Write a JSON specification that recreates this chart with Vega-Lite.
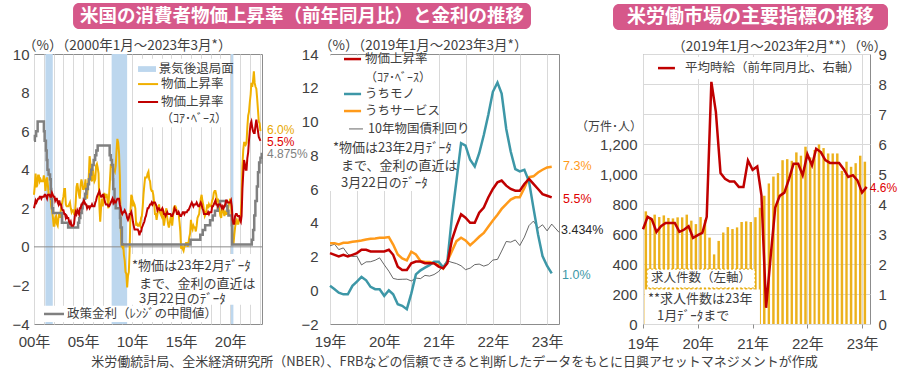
{
  "$schema": "https://vega.github.io/schema/vega-lite/v6.json",
  "background": "white",
  "padding": {"left": 11, "top": 2, "right": 2, "bottom": 2},
  "title": {"text": "米労働統計局、全米経済研究所（NBER）、FRBなどの信頼できると判断したデータをもとに日興アセットマネジメントが作成", "orient": "bottom", "anchor": "middle", "fontSize": 13, "fontWeight": "normal", "color": "#404040", "offset": 4, "font": "Noto Sans CJK JP"},
  "datasets": {
    "rec": [{"s": "2001-03-01", "e": "2001-11-30"}, {"s": "2007-12-01", "e": "2009-06-30"}, {"s": "2020-02-01", "e": "2020-04-30"}],
    "cpi": [
      {"d":"2000-01-01","h":2.7,"c":2.0},{"d":"2000-02-01","h":3.2,"c":2.2},{"d":"2000-03-01","h":3.8,"c":2.4},{"d":"2000-04-01","h":3.1,"c":2.3},{"d":"2000-05-01","h":3.2,"c":2.4},{"d":"2000-06-01","h":3.7,"c":2.5},{"d":"2000-07-01","h":3.7,"c":2.5},{"d":"2000-08-01","h":3.4,"c":2.6},{"d":"2000-09-01","h":3.5,"c":2.6},{"d":"2000-10-01","h":3.4,"c":2.5},{"d":"2000-11-01","h":3.4,"c":2.6},{"d":"2000-12-01","h":3.4,"c":2.6},
      {"d":"2001-01-01","h":3.7,"c":2.6},{"d":"2001-02-01","h":3.5,"c":2.7},{"d":"2001-03-01","h":2.9,"c":2.7},{"d":"2001-04-01","h":3.3,"c":2.6},{"d":"2001-05-01","h":3.6,"c":2.5},{"d":"2001-06-01","h":3.2,"c":2.7},{"d":"2001-07-01","h":2.7,"c":2.7},{"d":"2001-08-01","h":2.7,"c":2.7},{"d":"2001-09-01","h":2.6,"c":2.6},{"d":"2001-10-01","h":2.1,"c":2.6},{"d":"2001-11-01","h":1.9,"c":2.8},{"d":"2001-12-01","h":1.6,"c":2.7},
      {"d":"2002-01-01","h":1.1,"c":2.6},{"d":"2002-02-01","h":1.1,"c":2.6},{"d":"2002-03-01","h":1.5,"c":2.4},{"d":"2002-04-01","h":1.6,"c":2.5},{"d":"2002-05-01","h":1.2,"c":2.5},{"d":"2002-06-01","h":1.1,"c":2.3},{"d":"2002-07-01","h":1.5,"c":2.2},{"d":"2002-08-01","h":1.8,"c":2.4},{"d":"2002-09-01","h":1.5,"c":2.2},{"d":"2002-10-01","h":2.0,"c":2.2},{"d":"2002-11-01","h":2.2,"c":2.0},{"d":"2002-12-01","h":2.4,"c":1.9},
      {"d":"2003-01-01","h":2.6,"c":1.9},{"d":"2003-02-01","h":3.0,"c":1.7},{"d":"2003-03-01","h":3.0,"c":1.7},{"d":"2003-04-01","h":2.2,"c":1.5},{"d":"2003-05-01","h":2.1,"c":1.6},{"d":"2003-06-01","h":2.1,"c":1.5},{"d":"2003-07-01","h":2.1,"c":1.5},{"d":"2003-08-01","h":2.2,"c":1.3},{"d":"2003-09-01","h":2.3,"c":1.2},{"d":"2003-10-01","h":2.0,"c":1.3},{"d":"2003-11-01","h":1.8,"c":1.1},{"d":"2003-12-01","h":1.9,"c":1.1},
      {"d":"2004-01-01","h":1.9,"c":1.1},{"d":"2004-02-01","h":1.7,"c":1.2},{"d":"2004-03-01","h":1.7,"c":1.6},{"d":"2004-04-01","h":2.3,"c":1.8},{"d":"2004-05-01","h":3.1,"c":1.7},{"d":"2004-06-01","h":3.3,"c":1.9},{"d":"2004-07-01","h":3.0,"c":1.8},{"d":"2004-08-01","h":2.7,"c":1.7},{"d":"2004-09-01","h":2.5,"c":2.0},{"d":"2004-10-01","h":3.2,"c":2.0},{"d":"2004-11-01","h":3.5,"c":2.2},{"d":"2004-12-01","h":3.3,"c":2.2},
      {"d":"2005-01-01","h":3.0,"c":2.3},{"d":"2005-02-01","h":3.0,"c":2.4},{"d":"2005-03-01","h":3.1,"c":2.3},{"d":"2005-04-01","h":3.5,"c":2.2},{"d":"2005-05-01","h":2.8,"c":2.2},{"d":"2005-06-01","h":2.5,"c":2.0},{"d":"2005-07-01","h":3.2,"c":2.1},{"d":"2005-08-01","h":3.6,"c":2.1},{"d":"2005-09-01","h":4.7,"c":2.0},{"d":"2005-10-01","h":4.3,"c":2.1},{"d":"2005-11-01","h":3.5,"c":2.1},{"d":"2005-12-01","h":3.4,"c":2.2},
      {"d":"2006-01-01","h":4.0,"c":2.1},{"d":"2006-02-01","h":3.6,"c":2.1},{"d":"2006-03-01","h":3.4,"c":2.1},{"d":"2006-04-01","h":3.5,"c":2.3},{"d":"2006-05-01","h":4.2,"c":2.4},{"d":"2006-06-01","h":4.3,"c":2.6},{"d":"2006-07-01","h":4.1,"c":2.7},{"d":"2006-08-01","h":3.8,"c":2.8},{"d":"2006-09-01","h":2.1,"c":2.9},{"d":"2006-10-01","h":1.3,"c":2.7},{"d":"2006-11-01","h":2.0,"c":2.6},{"d":"2006-12-01","h":2.5,"c":2.6},
      {"d":"2007-01-01","h":2.1,"c":2.7},{"d":"2007-02-01","h":2.4,"c":2.7},{"d":"2007-03-01","h":2.8,"c":2.5},{"d":"2007-04-01","h":2.6,"c":2.3},{"d":"2007-05-01","h":2.7,"c":2.2},{"d":"2007-06-01","h":2.7,"c":2.2},{"d":"2007-07-01","h":2.4,"c":2.2},{"d":"2007-08-01","h":2.0,"c":2.1},{"d":"2007-09-01","h":2.8,"c":2.1},{"d":"2007-10-01","h":3.5,"c":2.2},{"d":"2007-11-01","h":4.3,"c":2.3},{"d":"2007-12-01","h":4.1,"c":2.4},
      {"d":"2008-01-01","h":4.3,"c":2.5},{"d":"2008-02-01","h":4.0,"c":2.3},{"d":"2008-03-01","h":4.0,"c":2.4},{"d":"2008-04-01","h":3.9,"c":2.3},{"d":"2008-05-01","h":4.2,"c":2.3},{"d":"2008-06-01","h":5.0,"c":2.4},{"d":"2008-07-01","h":5.6,"c":2.5},{"d":"2008-08-01","h":5.4,"c":2.5},{"d":"2008-09-01","h":4.9,"c":2.5},{"d":"2008-10-01","h":3.7,"c":2.2},{"d":"2008-11-01","h":1.1,"c":2.0},{"d":"2008-12-01","h":0.1,"c":1.8},
      {"d":"2009-01-01","h":0.0,"c":1.7},{"d":"2009-02-01","h":0.2,"c":1.8},{"d":"2009-03-01","h":-0.4,"c":1.8},{"d":"2009-04-01","h":-0.7,"c":1.9},{"d":"2009-05-01","h":-1.3,"c":1.8},{"d":"2009-06-01","h":-1.4,"c":1.7},{"d":"2009-07-01","h":-2.1,"c":1.5},{"d":"2009-08-01","h":-1.5,"c":1.4},{"d":"2009-09-01","h":-1.3,"c":1.5},{"d":"2009-10-01","h":-0.2,"c":1.7},{"d":"2009-11-01","h":1.8,"c":1.7},{"d":"2009-12-01","h":2.7,"c":1.8},
      {"d":"2010-01-01","h":2.6,"c":1.6},{"d":"2010-02-01","h":2.1,"c":1.3},{"d":"2010-03-01","h":2.3,"c":1.1},{"d":"2010-04-01","h":2.2,"c":0.9},{"d":"2010-05-01","h":2.0,"c":0.9},{"d":"2010-06-01","h":1.1,"c":0.9},{"d":"2010-07-01","h":1.2,"c":0.9},{"d":"2010-08-01","h":1.1,"c":0.9},{"d":"2010-09-01","h":1.1,"c":0.8},{"d":"2010-10-01","h":1.2,"c":0.6},{"d":"2010-11-01","h":1.1,"c":0.8},{"d":"2010-12-01","h":1.5,"c":0.8},
      {"d":"2011-01-01","h":1.6,"c":1.0},{"d":"2011-02-01","h":2.1,"c":1.1},{"d":"2011-03-01","h":2.7,"c":1.2},{"d":"2011-04-01","h":3.2,"c":1.3},{"d":"2011-05-01","h":3.6,"c":1.5},{"d":"2011-06-01","h":3.6,"c":1.6},{"d":"2011-07-01","h":3.6,"c":1.8},{"d":"2011-08-01","h":3.8,"c":2.0},{"d":"2011-09-01","h":3.9,"c":2.0},{"d":"2011-10-01","h":3.5,"c":2.1},{"d":"2011-11-01","h":3.4,"c":2.2},{"d":"2011-12-01","h":3.0,"c":2.2},
      {"d":"2012-01-01","h":2.9,"c":2.3},{"d":"2012-02-01","h":2.9,"c":2.2},{"d":"2012-03-01","h":2.7,"c":2.3},{"d":"2012-04-01","h":2.3,"c":2.3},{"d":"2012-05-01","h":1.7,"c":2.3},{"d":"2012-06-01","h":1.7,"c":2.2},{"d":"2012-07-01","h":1.4,"c":2.1},{"d":"2012-08-01","h":1.7,"c":1.9},{"d":"2012-09-01","h":2.0,"c":2.0},{"d":"2012-10-01","h":2.2,"c":2.0},{"d":"2012-11-01","h":1.8,"c":1.9},{"d":"2012-12-01","h":1.7,"c":1.9},
      {"d":"2013-01-01","h":1.6,"c":1.9},{"d":"2013-02-01","h":2.0,"c":2.0},{"d":"2013-03-01","h":1.5,"c":1.9},{"d":"2013-04-01","h":1.1,"c":1.7},{"d":"2013-05-01","h":1.4,"c":1.7},{"d":"2013-06-01","h":1.8,"c":1.6},{"d":"2013-07-01","h":2.0,"c":1.7},{"d":"2013-08-01","h":1.5,"c":1.8},{"d":"2013-09-01","h":1.2,"c":1.7},{"d":"2013-10-01","h":1.0,"c":1.7},{"d":"2013-11-01","h":1.2,"c":1.7},{"d":"2013-12-01","h":1.5,"c":1.7},
      {"d":"2014-01-01","h":1.6,"c":1.6},{"d":"2014-02-01","h":1.1,"c":1.6},{"d":"2014-03-01","h":1.5,"c":1.7},{"d":"2014-04-01","h":2.0,"c":1.8},{"d":"2014-05-01","h":2.1,"c":2.0},{"d":"2014-06-01","h":2.1,"c":1.9},{"d":"2014-07-01","h":2.0,"c":1.9},{"d":"2014-08-01","h":1.7,"c":1.7},{"d":"2014-09-01","h":1.7,"c":1.7},{"d":"2014-10-01","h":1.7,"c":1.8},{"d":"2014-11-01","h":1.3,"c":1.7},{"d":"2014-12-01","h":0.8,"c":1.6},
      {"d":"2015-01-01","h":-0.1,"c":1.6},{"d":"2015-02-01","h":0.0,"c":1.7},{"d":"2015-03-01","h":-0.1,"c":1.8},{"d":"2015-04-01","h":-0.2,"c":1.8},{"d":"2015-05-01","h":0.0,"c":1.7},{"d":"2015-06-01","h":0.1,"c":1.8},{"d":"2015-07-01","h":0.2,"c":1.8},{"d":"2015-08-01","h":0.2,"c":1.8},{"d":"2015-09-01","h":0.0,"c":1.9},{"d":"2015-10-01","h":0.2,"c":1.9},{"d":"2015-11-01","h":0.5,"c":2.0},{"d":"2015-12-01","h":0.7,"c":2.1},
      {"d":"2016-01-01","h":1.4,"c":2.2},{"d":"2016-02-01","h":1.0,"c":2.3},{"d":"2016-03-01","h":0.9,"c":2.2},{"d":"2016-04-01","h":1.1,"c":2.1},{"d":"2016-05-01","h":1.0,"c":2.2},{"d":"2016-06-01","h":1.0,"c":2.2},{"d":"2016-07-01","h":0.8,"c":2.2},{"d":"2016-08-01","h":1.1,"c":2.3},{"d":"2016-09-01","h":1.5,"c":2.2},{"d":"2016-10-01","h":1.6,"c":2.1},{"d":"2016-11-01","h":1.7,"c":2.1},{"d":"2016-12-01","h":2.1,"c":2.2},
      {"d":"2017-01-01","h":2.5,"c":2.3},{"d":"2017-02-01","h":2.7,"c":2.2},{"d":"2017-03-01","h":2.4,"c":2.0},{"d":"2017-04-01","h":2.2,"c":1.9},{"d":"2017-05-01","h":1.9,"c":1.7},{"d":"2017-06-01","h":1.6,"c":1.7},{"d":"2017-07-01","h":1.7,"c":1.7},{"d":"2017-08-01","h":1.9,"c":1.7},{"d":"2017-09-01","h":2.2,"c":1.7},{"d":"2017-10-01","h":2.0,"c":1.8},{"d":"2017-11-01","h":2.2,"c":1.7},{"d":"2017-12-01","h":2.1,"c":1.8},
      {"d":"2018-01-01","h":2.1,"c":1.8},{"d":"2018-02-01","h":2.2,"c":1.8},{"d":"2018-03-01","h":2.4,"c":2.1},{"d":"2018-04-01","h":2.5,"c":2.1},{"d":"2018-05-01","h":2.8,"c":2.2},{"d":"2018-06-01","h":2.9,"c":2.3},{"d":"2018-07-01","h":2.9,"c":2.4},{"d":"2018-08-01","h":2.7,"c":2.2},{"d":"2018-09-01","h":2.3,"c":2.2},{"d":"2018-10-01","h":2.5,"c":2.1},{"d":"2018-11-01","h":2.2,"c":2.2},{"d":"2018-12-01","h":1.9,"c":2.2},
      {"d":"2019-01-01","h":1.6,"c":2.2},{"d":"2019-02-01","h":1.5,"c":2.1},{"d":"2019-03-01","h":1.9,"c":2.0},{"d":"2019-04-01","h":2.0,"c":2.1},{"d":"2019-05-01","h":1.8,"c":2.0},{"d":"2019-06-01","h":1.6,"c":2.1},{"d":"2019-07-01","h":1.8,"c":2.2},{"d":"2019-08-01","h":1.7,"c":2.4},{"d":"2019-09-01","h":1.7,"c":2.4},{"d":"2019-10-01","h":1.8,"c":2.3},{"d":"2019-11-01","h":2.1,"c":2.3},{"d":"2019-12-01","h":2.3,"c":2.3},
      {"d":"2020-01-01","h":2.5,"c":2.3},{"d":"2020-02-01","h":2.3,"c":2.4},{"d":"2020-03-01","h":1.5,"c":2.1},{"d":"2020-04-01","h":0.3,"c":1.4},{"d":"2020-05-01","h":0.1,"c":1.2},{"d":"2020-06-01","h":0.6,"c":1.2},{"d":"2020-07-01","h":1.0,"c":1.6},{"d":"2020-08-01","h":1.3,"c":1.7},{"d":"2020-09-01","h":1.4,"c":1.7},{"d":"2020-10-01","h":1.2,"c":1.6},{"d":"2020-11-01","h":1.2,"c":1.6},{"d":"2020-12-01","h":1.4,"c":1.6},
      {"d":"2021-01-01","h":1.4,"c":1.4},{"d":"2021-02-01","h":1.7,"c":1.3},{"d":"2021-03-01","h":2.6,"c":1.6},{"d":"2021-04-01","h":4.2,"c":3.0},{"d":"2021-05-01","h":5.0,"c":3.8},{"d":"2021-06-01","h":5.4,"c":4.5},{"d":"2021-07-01","h":5.4,"c":4.3},{"d":"2021-08-01","h":5.3,"c":4.0},{"d":"2021-09-01","h":5.4,"c":4.0},{"d":"2021-10-01","h":6.2,"c":4.6},{"d":"2021-11-01","h":6.8,"c":4.9},{"d":"2021-12-01","h":7.0,"c":5.5},
      {"d":"2022-01-01","h":7.5,"c":6.0},{"d":"2022-02-01","h":7.9,"c":6.4},{"d":"2022-03-01","h":8.5,"c":6.5},{"d":"2022-04-01","h":8.3,"c":6.2},{"d":"2022-05-01","h":8.6,"c":6.0},{"d":"2022-06-01","h":9.1,"c":5.9},{"d":"2022-07-01","h":8.5,"c":5.9},{"d":"2022-08-01","h":8.3,"c":6.3},{"d":"2022-09-01","h":8.2,"c":6.6},{"d":"2022-10-01","h":7.7,"c":6.3},{"d":"2022-11-01","h":7.1,"c":6.0},{"d":"2022-12-01","h":6.5,"c":5.7},
      {"d":"2023-01-01","h":6.4,"c":5.6},{"d":"2023-02-01","h":6.0,"c":5.5}
    ],
    "rate": [
      {"d":"2000-01-01","r":5.5},{"d":"2000-02-02","r":5.75},{"d":"2000-03-21","r":6.0},{"d":"2000-05-16","r":6.5},{"d":"2001-01-03","r":6.0},{"d":"2001-01-31","r":5.5},{"d":"2001-03-20","r":5.0},{"d":"2001-04-18","r":4.5},{"d":"2001-05-15","r":4.0},{"d":"2001-06-27","r":3.75},{"d":"2001-08-21","r":3.5},{"d":"2001-09-17","r":3.0},{"d":"2001-10-02","r":2.5},{"d":"2001-11-06","r":2.0},{"d":"2001-12-11","r":1.75},{"d":"2002-11-06","r":1.25},{"d":"2003-06-25","r":1.0},{"d":"2004-06-30","r":1.25},{"d":"2004-08-10","r":1.5},{"d":"2004-09-21","r":1.75},{"d":"2004-11-10","r":2.0},{"d":"2004-12-14","r":2.25},{"d":"2005-02-02","r":2.5},{"d":"2005-03-22","r":2.75},{"d":"2005-05-03","r":3.0},{"d":"2005-06-30","r":3.25},{"d":"2005-08-09","r":3.5},{"d":"2005-09-20","r":3.75},{"d":"2005-11-01","r":4.0},{"d":"2005-12-13","r":4.25},{"d":"2006-01-31","r":4.5},{"d":"2006-03-28","r":4.75},{"d":"2006-05-10","r":5.0},{"d":"2006-06-29","r":5.25},{"d":"2007-09-18","r":4.75},{"d":"2007-10-31","r":4.5},{"d":"2007-12-11","r":4.25},{"d":"2008-01-22","r":3.5},{"d":"2008-01-30","r":3.0},{"d":"2008-03-18","r":2.25},{"d":"2008-04-30","r":2.0},{"d":"2008-10-08","r":1.5},{"d":"2008-10-29","r":1.0},{"d":"2008-12-16","r":0.125},{"d":"2015-12-16","r":0.375},{"d":"2016-12-14","r":0.625},{"d":"2017-03-15","r":0.875},{"d":"2017-06-14","r":1.125},{"d":"2017-12-13","r":1.375},{"d":"2018-03-21","r":1.625},{"d":"2018-06-13","r":1.875},{"d":"2018-09-26","r":2.125},{"d":"2018-12-19","r":2.375},{"d":"2019-07-31","r":2.125},{"d":"2019-09-18","r":1.875},{"d":"2019-10-30","r":1.625},{"d":"2020-03-03","r":1.125},{"d":"2020-03-15","r":0.125},{"d":"2022-03-16","r":0.375},{"d":"2022-05-04","r":0.875},{"d":"2022-06-15","r":1.625},{"d":"2022-07-27","r":2.375},{"d":"2022-09-21","r":3.125},{"d":"2022-11-02","r":3.875},{"d":"2022-12-14","r":4.375},{"d":"2023-02-01","r":4.625},{"d":"2023-03-22","r":4.875}
    ],
    "mid": [
      {"d":"2019-01-01","c":2.2,"g":0.26,"s":2.79},{"d":"2019-02-01","c":2.1,"g":0.06,"s":2.79},{"d":"2019-03-01","c":2.0,"g":-0.14,"s":2.71},{"d":"2019-04-01","c":2.1,"g":-0.24,"s":2.81},{"d":"2019-05-01","c":2.0,"g":-0.24,"s":2.81},{"d":"2019-06-01","c":2.1,"g":0.26,"s":2.87},{"d":"2019-07-01","c":2.2,"g":0.51,"s":2.91},{"d":"2019-08-01","c":2.4,"g":0.79,"s":2.95},{"d":"2019-09-01","c":2.4,"g":0.59,"s":3.01},{"d":"2019-10-01","c":2.3,"g":0.2,"s":3.05},{"d":"2019-11-01","c":2.3,"g":0.06,"s":3.07},{"d":"2019-12-01","c":2.3,"g":0.06,"s":3.11},
      {"d":"2020-01-01","c":2.3,"g":-0.33,"s":3.11},{"d":"2020-02-01","c":2.4,"g":0.0,"s":3.15},{"d":"2020-03-01","c":2.1,"g":-0.24,"s":2.71},{"d":"2020-04-01","c":1.4,"g":-0.83,"s":2.12},{"d":"2020-05-01","c":1.2,"g":-0.92,"s":1.89},{"d":"2020-06-01","c":1.2,"g":-1.12,"s":1.77},{"d":"2020-07-01","c":1.6,"g":-0.2,"s":2.28},{"d":"2020-08-01","c":1.7,"g":0.94,"s":2.12},{"d":"2020-09-01","c":1.7,"g":1.18,"s":1.73},{"d":"2020-10-01","c":1.6,"g":1.34,"s":1.67},{"d":"2020-11-01","c":1.6,"g":1.49,"s":1.67},{"d":"2020-12-01","c":1.6,"g":1.69,"s":1.59},
      {"d":"2021-01-01","c":1.4,"g":1.69,"s":1.49},{"d":"2021-02-01","c":1.3,"g":1.34,"s":1.28},{"d":"2021-03-01","c":1.6,"g":1.73,"s":1.73},{"d":"2021-04-01","c":3.0,"g":4.4,"s":2.32},{"d":"2021-05-01","c":3.8,"g":6.5,"s":2.91},{"d":"2021-06-01","c":4.5,"g":8.71,"s":3.11},{"d":"2021-07-01","c":4.3,"g":8.57,"s":2.95},{"d":"2021-08-01","c":4.0,"g":7.73,"s":2.67},{"d":"2021-09-01","c":4.0,"g":7.34,"s":2.91},{"d":"2021-10-01","c":4.6,"g":8.12,"s":3.17},{"d":"2021-11-01","c":4.9,"g":9.2,"s":3.4},{"d":"2021-12-01","c":5.5,"g":10.38,"s":3.76},
      {"d":"2022-01-01","c":6.0,"g":11.76,"s":4.13},{"d":"2022-02-01","c":6.4,"g":12.31,"s":4.48},{"d":"2022-03-01","c":6.5,"g":11.66,"s":4.82},{"d":"2022-04-01","c":6.2,"g":9.56,"s":5.11},{"d":"2022-05-01","c":6.0,"g":8.22,"s":5.37},{"d":"2022-06-01","c":5.9,"g":7.18,"s":5.51},{"d":"2022-07-01","c":5.9,"g":7.04,"s":5.51},{"d":"2022-08-01","c":6.3,"g":7.14,"s":6.06},{"d":"2022-09-01","c":6.6,"g":6.45,"s":6.7},{"d":"2022-10-01","c":6.3,"g":4.88,"s":6.75},{"d":"2022-11-01","c":6.0,"g":3.3,"s":6.98},{"d":"2022-12-01","c":5.7,"g":2.03,"s":7.14},
      {"d":"2023-01-01","c":5.6,"g":1.44,"s":7.28},{"d":"2023-02-01","c":5.5,"g":1.0,"s":7.32}
    ],
    "jgb": [
      {"d":"2019-01-01","y":2.63},{"d":"2019-02-01","y":2.73},{"d":"2019-03-01","y":2.41},{"d":"2019-04-01","y":2.51},{"d":"2019-05-01","y":2.14},{"d":"2019-06-01","y":2.0},{"d":"2019-07-01","y":2.02},{"d":"2019-08-01","y":1.5},{"d":"2019-09-01","y":1.68},{"d":"2019-10-01","y":1.69},{"d":"2019-11-01","y":1.78},{"d":"2019-12-01","y":1.92},
      {"d":"2020-01-01","y":1.51},{"d":"2020-02-01","y":1.13},{"d":"2020-03-01","y":0.7},{"d":"2020-04-01","y":0.64},{"d":"2020-05-01","y":0.65},{"d":"2020-06-01","y":0.66},{"d":"2020-07-01","y":0.55},{"d":"2020-08-01","y":0.72},{"d":"2020-09-01","y":0.69},{"d":"2020-10-01","y":0.88},{"d":"2020-11-01","y":0.84},{"d":"2020-12-01","y":0.93},
      {"d":"2021-01-01","y":1.11},{"d":"2021-02-01","y":1.44},{"d":"2021-03-01","y":1.74},{"d":"2021-04-01","y":1.65},{"d":"2021-05-01","y":1.58},{"d":"2021-06-01","y":1.45},{"d":"2021-07-01","y":1.22},{"d":"2021-08-01","y":1.31},{"d":"2021-09-01","y":1.52},{"d":"2021-10-01","y":1.55},{"d":"2021-11-01","y":1.43},{"d":"2021-12-01","y":1.52},
      {"d":"2022-01-01","y":1.79},{"d":"2022-02-01","y":1.83},{"d":"2022-03-01","y":2.32},{"d":"2022-04-01","y":2.89},{"d":"2022-05-01","y":2.85},{"d":"2022-06-01","y":2.98},{"d":"2022-07-01","y":2.65},{"d":"2022-08-01","y":3.15},{"d":"2022-09-01","y":3.83},{"d":"2022-10-01","y":4.1},{"d":"2022-11-01","y":3.68},{"d":"2022-12-01","y":3.88},
      {"d":"2023-01-01","y":3.52},{"d":"2023-02-01","y":3.92},{"d":"2023-03-22","y":3.434}
    ],
    "labor": [
      {"d":"2019-01-01","jobs":751,"wage":3.16},{"d":"2019-02-01","jobs":713,"wage":3.57},{"d":"2019-03-01","jobs":729,"wage":3.49},{"d":"2019-04-01","jobs":713,"wage":3.07},{"d":"2019-05-01","jobs":724,"wage":3.26},{"d":"2019-06-01","jobs":707,"wage":3.37},{"d":"2019-07-01","jobs":704,"wage":3.37},{"d":"2019-08-01","jobs":711,"wage":3.37},{"d":"2019-09-01","jobs":711,"wage":3.07},{"d":"2019-10-01","jobs":729,"wage":3.14},{"d":"2019-11-01","jobs":689,"wage":3.26},{"d":"2019-12-01","jobs":666,"wage":2.87},
      {"d":"2020-01-01","jobs":713,"wage":2.96},{"d":"2020-02-01","jobs":695,"wage":3.04},{"d":"2020-03-01","jobs":576,"wage":3.57},{"d":"2020-04-01","jobs":464,"wage":8.07},{"d":"2020-05-01","jobs":554,"wage":7.07},{"d":"2020-06-01","jobs":610,"wage":5.03},{"d":"2020-07-01","jobs":646,"wage":4.84},{"d":"2020-08-01","jobs":633,"wage":4.75},{"d":"2020-09-01","jobs":644,"wage":4.75},{"d":"2020-10-01","jobs":680,"wage":4.57},{"d":"2020-11-01","jobs":684,"wage":4.57},{"d":"2020-12-01","jobs":680,"wage":5.45},
      {"d":"2021-01-01","jobs":712,"wage":5.14},{"d":"2021-02-01","jobs":775,"wage":5.25},{"d":"2021-03-01","jobs":855,"wage":4.29},{"d":"2021-04-01","jobs":937,"wage":0.54},{"d":"2021-05-01","jobs":983,"wage":2.23},{"d":"2021-06-01","jobs":1006,"wage":3.88},{"d":"2021-07-01","jobs":1092,"wage":4.27},{"d":"2021-08-01","jobs":1099,"wage":4.38},{"d":"2021-09-01","jobs":1088,"wage":4.84},{"d":"2021-10-01","jobs":1144,"wage":5.34},{"d":"2021-11-01","jobs":1122,"wage":5.34},{"d":"2021-12-01","jobs":1182,"wage":4.96},
      {"d":"2022-01-01","jobs":1111,"wage":5.66},{"d":"2022-02-01","jobs":1160,"wage":5.29},{"d":"2022-03-01","jobs":1197,"wage":5.84},{"d":"2022-04-01","jobs":1173,"wage":5.73},{"d":"2022-05-01","jobs":1137,"wage":5.46},{"d":"2022-06-01","jobs":1137,"wage":5.37},{"d":"2022-07-01","jobs":1137,"wage":5.37},{"d":"2022-08-01","jobs":1021,"wage":5.37},{"d":"2022-09-01","jobs":1082,"wage":5.16},{"d":"2022-10-01","jobs":1048,"wage":4.9},{"d":"2022-11-01","jobs":1072,"wage":4.96},{"d":"2022-12-01","jobs":1122,"wage":4.79},
      {"d":"2023-01-01","jobs":1082,"wage":4.38},{"d":"2023-02-01","jobs":null,"wage":4.57}
    ]
  },
  "hconcat": [
    {
      "hconcat": [
        {
          "width": 228, "height": 270,
          "data": {"values": [{}]},
          "resolve": {"axis": {"x": "independent", "y": "independent"}},
          "layer": [
            {"data": {"name": "rec"}, "mark": {"type": "rect", "color": "#bdd7ee"},
             "encoding": {
               "x": {"field": "s", "type": "temporal", "scale": {"domain": [{"year": 2000, "month": 1, "date": 1}, {"year": 2023, "month": 3, "date": 31}], "nice": false},
                     "axis": {"orient": "bottom", "title": null, "grid": true, "values": [{"year":2000},{"year":2001},{"year":2002},{"year":2003},{"year":2004},{"year":2005},{"year":2006},{"year":2007},{"year":2008},{"year":2009},{"year":2010},{"year":2011},{"year":2012},{"year":2013},{"year":2014},{"year":2015},{"year":2016},{"year":2017},{"year":2018},{"year":2019},{"year":2020},{"year":2021},{"year":2022},{"year":2023}],
                              "labelExpr": "year(datum.value) % 5 === 0 ? timeFormat(datum.value, '%y年') : ''", "labelOverlap": false, "labelFlush": false, "labelBound": false, "labelPadding": 10}},
               "x2": {"field": "e"}}},
            {"mark": {"type": "rule", "color": "#8c8c8c", "strokeWidth": 1}, "encoding": {"y": {"datum": 0, "type": "quantitative", "axis": null}}},
            {"mark": {"type": "rect", "color": "white"}, "encoding": {"x": {"datum": {"year": 2010, "month": 2, "date": 7}, "type": "temporal", "axis": null}, "x2": {"datum": {"year": 2019, "month": 12, "date": 20}}, "y": {"datum": 9.75, "type": "quantitative", "axis": null}, "y2": {"datum": 6.2}}},
            {"mark": {"type": "rect", "color": "white"}, "encoding": {"x": {"datum": {"year": 2009, "month": 10, "date": 15}, "type": "temporal", "axis": null}, "x2": {"datum": {"year": 2022, "month": 5, "date": 1}}, "y": {"datum": -0.37, "type": "quantitative", "axis": null}, "y2": {"datum": -3.0}}},
            {"mark": {"type": "rect", "color": "white"}, "encoding": {"x": {"datum": {"year": 2000, "month": 9, "date": 16}, "type": "temporal", "axis": null}, "x2": {"datum": {"year": 2017, "month": 7, "date": 16}}, "y": {"datum": -3.05, "type": "quantitative", "axis": null}, "y2": {"datum": -3.9}}},
            {"data": {"name": "cpi"}, "mark": {"type": "line", "color": "#f0b000", "strokeWidth": 2}, "encoding": {"x": {"field": "d", "type": "temporal", "axis": null}, "y": {"field": "h", "type": "quantitative", "scale": {"domain": [-4, 10], "nice": false}, "axis": {"orient": "left", "title": null, "values": [-4, -2, 0, 2, 4, 6, 8, 10], "labelPadding": 5, "labelOverlap": false}}}},
            {"data": {"name": "rate"}, "mark": {"type": "line", "color": "#808080", "strokeWidth": 2.5, "interpolate": "step-after"}, "encoding": {"x": {"field": "d", "type": "temporal", "axis": null}, "y": {"field": "r", "type": "quantitative", "axis": null}}},
            {"data": {"name": "cpi"}, "mark": {"type": "line", "color": "#c00000", "strokeWidth": 2}, "encoding": {"x": {"field": "d", "type": "temporal", "axis": null}, "y": {"field": "c", "type": "quantitative", "axis": null}}},
            {"mark": {"type": "rect", "color": "#bdd7ee"}, "encoding": {"x": {"datum": {"year": 2010, "month": 8, "date": 10}, "type": "temporal", "axis": null}, "x2": {"datum": {"year": 2012, "month": 6, "date": 10}}, "y": {"datum": 9.37, "type": "quantitative", "axis": null}, "y2": {"datum": 9.07}}},
            {"mark": {"type": "rule", "color": "#f0b000", "strokeWidth": 2}, "encoding": {"x": {"datum": {"year": 2010, "month": 8, "date": 10}, "type": "temporal", "axis": null}, "x2": {"datum": {"year": 2012, "month": 8, "date": 25}}, "y": {"datum": 8.44, "type": "quantitative", "axis": null}}},
            {"mark": {"type": "rule", "color": "#c00000", "strokeWidth": 2}, "encoding": {"x": {"datum": {"year": 2010, "month": 8, "date": 10}, "type": "temporal", "axis": null}, "x2": {"datum": {"year": 2012, "month": 8, "date": 25}}, "y": {"datum": 7.51, "type": "quantitative", "axis": null}}},
            {"mark": {"type": "text", "text": "景気後退局面", "align": "left", "baseline": "middle", "fontSize": 12.5}, "encoding": {"x": {"datum": {"year": 2012, "month": 9, "date": 20}, "type": "temporal", "axis": null}, "y": {"datum": 9.22, "type": "quantitative", "axis": null}}},
            {"mark": {"type": "text", "text": "物価上昇率", "align": "left", "baseline": "middle", "fontSize": 12.5}, "encoding": {"x": {"datum": {"year": 2012, "month": 12, "date": 12}, "type": "temporal", "axis": null}, "y": {"datum": 8.44, "type": "quantitative", "axis": null}}},
            {"mark": {"type": "text", "text": "物価上昇率", "align": "left", "baseline": "middle", "fontSize": 12.5}, "encoding": {"x": {"datum": {"year": 2012, "month": 12, "date": 12}, "type": "temporal", "axis": null}, "y": {"datum": 7.51, "type": "quantitative", "axis": null}}},
            {"mark": {"type": "text", "text": "（ｺｱ･ﾍﾞｰｽ）", "align": "left", "baseline": "middle", "fontSize": 12}, "encoding": {"x": {"datum": {"year": 2012, "month": 12, "date": 12}, "type": "temporal", "axis": null}, "y": {"datum": 6.63, "type": "quantitative", "axis": null}}},
            {"mark": {"type": "text", "text": "*物価は23年2月ﾃﾞｰﾀ", "align": "left", "baseline": "middle", "fontSize": 13}, "encoding": {"x": {"datum": {"year": 2009, "month": 12, "date": 28}, "type": "temporal", "axis": null}, "y": {"datum": -1.0, "type": "quantitative", "axis": null}}},
            {"mark": {"type": "text", "text": "まで、金利の直近は", "align": "left", "baseline": "middle", "fontSize": 13}, "encoding": {"x": {"datum": {"year": 2010, "month": 9, "date": 16}, "type": "temporal", "axis": null}, "y": {"datum": -1.94, "type": "quantitative", "axis": null}}},
            {"mark": {"type": "text", "text": "3月22日のﾃﾞｰﾀ", "align": "left", "baseline": "middle", "fontSize": 13}, "encoding": {"x": {"datum": {"year": 2010, "month": 9, "date": 16}, "type": "temporal", "axis": null}, "y": {"datum": -2.72, "type": "quantitative", "axis": null}}},
            {"mark": {"type": "rule", "color": "#808080", "strokeWidth": 2.5}, "encoding": {"x": {"datum": {"year": 2001, "month": 1, "date": 8}, "type": "temporal", "axis": null}, "x2": {"datum": {"year": 2003, "month": 1, "date": 23}}, "y": {"datum": -3.48, "type": "quantitative", "axis": null}}},
            {"mark": {"type": "text", "text": "政策金利（ﾚﾝｼﾞの中間値）", "align": "left", "baseline": "middle", "fontSize": 12.5}, "encoding": {"x": {"datum": {"year": 2003, "month": 5, "date": 15}, "type": "temporal", "axis": null}, "y": {"datum": -3.48, "type": "quantitative", "axis": null}}},
            {"mark": {"type": "text", "text": "6.0%", "align": "left", "baseline": "middle", "fontSize": 12, "dx": 5, "color": "#e8a800", "font": "Liberation Sans"}, "encoding": {"x": {"datum": {"year": 2023, "month": 3, "date": 31}, "type": "temporal", "axis": null}, "y": {"datum": 6.06, "type": "quantitative", "axis": null}}},
            {"mark": {"type": "text", "text": "5.5%", "align": "left", "baseline": "middle", "fontSize": 12, "dx": 5, "color": "#e00000", "font": "Liberation Sans"}, "encoding": {"x": {"datum": {"year": 2023, "month": 3, "date": 31}, "type": "temporal", "axis": null}, "y": {"datum": 5.44, "type": "quantitative", "axis": null}}},
            {"mark": {"type": "text", "text": "4.875%", "align": "left", "baseline": "middle", "fontSize": 12, "dx": 5, "color": "#7f7f7f", "font": "Liberation Sans"}, "encoding": {"x": {"datum": {"year": 2023, "month": 3, "date": 31}, "type": "temporal", "axis": null}, "y": {"datum": 4.82, "type": "quantitative", "axis": null}}},
            {"mark": {"type": "text", "text": "（%）（2000年1月～2023年3月*）", "align": "left", "baseline": "middle", "fontSize": 13.5, "dx": -11}, "encoding": {"x": {"datum": {"year": 2000, "month": 1, "date": 1}, "type": "temporal", "axis": null}, "y": {"datum": 10.41, "type": "quantitative", "axis": null}}},
            {"mark": {"type": "rect", "color": "#d6588a", "cornerRadius": 6}, "encoding": {"x": {"datum": {"year": 2003, "month": 12, "date": 25}, "type": "temporal", "axis": null}, "x2": {"datum": {"year": 2050, "month": 9, "date": 1}}, "y": {"datum": 12.64, "type": "quantitative", "axis": null}, "y2": {"datum": 11.3}}},
            {"mark": {"type": "text", "text": "米国の消費者物価上昇率（前年同月比）と金利の推移", "align": "center", "baseline": "middle", "fontSize": 18.5, "fontWeight": "bold", "color": "white"}, "encoding": {"x": {"datum": {"year": 2027, "month": 5, "date": 1}, "type": "temporal", "axis": null}, "y": {"datum": 11.97, "type": "quantitative", "axis": null}}}
          ]
        },
        {
          "width": 229, "height": 270,
          "data": {"values": [{}]},
          "resolve": {"axis": {"x": "independent", "y": "independent"}},
          "layer": [
            {"mark": {"type": "rect", "color": "white"},
             "encoding": {
               "x": {"datum": {"year": 2019, "month": 1, "date": 1}, "type": "temporal", "axis": null},
               "x2": {"datum": {"year": 2020, "month": 11, "date": 24}},
               "y": {"datum": 13.9, "type": "quantitative", "axis": null},
               "y2": {"datum": 5.88}}},
            {"data": {"name": "jgb"}, "mark": {"type": "line", "color": "#404040", "strokeWidth": 0.8},
             "encoding": {
               "x": {"field": "d", "type": "temporal", "scale": {"domain": [{"year": 2019, "month": 1, "date": 1}, {"year": 2023, "month": 3, "date": 22}], "nice": false},
                     "axis": {"orient": "bottom", "title": null, "grid": true, "values": [{"year":2019},{"year":2019,"month":7},{"year":2020},{"year":2020,"month":7},{"year":2021},{"year":2021,"month":7},{"year":2022},{"year":2022,"month":7},{"year":2023}],
                              "labelExpr": "month(datum.value) === 0 ? timeFormat(datum.value, '%y年') : ''", "labelOverlap": false, "labelFlush": false, "labelBound": false, "labelPadding": 10}},
               "y": {"field": "y", "type": "quantitative", "scale": {"domain": [-2, 14], "nice": false}, "axis": {"orient": "left", "title": null, "values": [-2, 0, 2, 4, 6, 8, 10, 12, 14], "labelPadding": 12, "labelOverlap": false}}}},
            {"data": {"name": "mid"}, "mark": {"type": "line", "color": "#ff9a1a", "strokeWidth": 2.5}, "encoding": {"x": {"field": "d", "type": "temporal", "axis": null}, "y": {"field": "s", "type": "quantitative", "axis": null}}},
            {"data": {"name": "mid"}, "mark": {"type": "line", "color": "#3d97a7", "strokeWidth": 2.5}, "encoding": {"x": {"field": "d", "type": "temporal", "axis": null}, "y": {"field": "g", "type": "quantitative", "axis": null}}},
            {"data": {"name": "mid"}, "mark": {"type": "line", "color": "#c00000", "strokeWidth": 2.5}, "encoding": {"x": {"field": "d", "type": "temporal", "axis": null}, "y": {"field": "c", "type": "quantitative", "axis": null}}},
            {"mark": {"type": "rule", "color": "#c00000", "strokeWidth": 2.5}, "encoding": {"x": {"datum": {"year": 2019, "month": 4, "date": 5}, "type": "temporal", "axis": null}, "x2": {"datum": {"year": 2019, "month": 7, "date": 29}}, "y": {"datum": 13.7, "type": "quantitative", "axis": null}}},
            {"mark": {"type": "rule", "color": "#3d97a7", "strokeWidth": 2.5}, "encoding": {"x": {"datum": {"year": 2019, "month": 4, "date": 5}, "type": "temporal", "axis": null}, "x2": {"datum": {"year": 2019, "month": 7, "date": 29}}, "y": {"datum": 11.63, "type": "quantitative", "axis": null}}},
            {"mark": {"type": "rule", "color": "#ff9a1a", "strokeWidth": 2.5}, "encoding": {"x": {"datum": {"year": 2019, "month": 4, "date": 5}, "type": "temporal", "axis": null}, "x2": {"datum": {"year": 2019, "month": 7, "date": 29}}, "y": {"datum": 10.62, "type": "quantitative", "axis": null}}},
            {"mark": {"type": "rule", "color": "#404040", "strokeWidth": 0.8}, "encoding": {"x": {"datum": {"year": 2019, "month": 5, "date": 9}, "type": "temporal", "axis": null}, "x2": {"datum": {"year": 2019, "month": 8, "date": 11}}, "y": {"datum": 9.56, "type": "quantitative", "axis": null}}},
            {"mark": {"type": "text", "text": "物価上昇率", "align": "left", "baseline": "middle", "fontSize": 12.5}, "encoding": {"x": {"datum": {"year": 2019, "month": 8, "date": 25}, "type": "temporal", "axis": null}, "y": {"datum": 13.7, "type": "quantitative", "axis": null}}},
            {"mark": {"type": "text", "text": "（ｺｱ･ﾍﾞｰｽ）", "align": "left", "baseline": "middle", "fontSize": 12}, "encoding": {"x": {"datum": {"year": 2019, "month": 8, "date": 25}, "type": "temporal", "axis": null}, "y": {"datum": 12.58, "type": "quantitative", "axis": null}}},
            {"mark": {"type": "text", "text": "うちモノ", "align": "left", "baseline": "middle", "fontSize": 12.5}, "encoding": {"x": {"datum": {"year": 2019, "month": 8, "date": 25}, "type": "temporal", "axis": null}, "y": {"datum": 11.63, "type": "quantitative", "axis": null}}},
            {"mark": {"type": "text", "text": "うちサービス", "align": "left", "baseline": "middle", "fontSize": 12.5}, "encoding": {"x": {"datum": {"year": 2019, "month": 8, "date": 25}, "type": "temporal", "axis": null}, "y": {"datum": 10.62, "type": "quantitative", "axis": null}}},
            {"mark": {"type": "text", "text": "10年物国債利回り", "align": "left", "baseline": "middle", "fontSize": 12.5}, "encoding": {"x": {"datum": {"year": 2019, "month": 9, "date": 14}, "type": "temporal", "axis": null}, "y": {"datum": 9.56, "type": "quantitative", "axis": null}}},
            {"mark": {"type": "text", "text": "*物価は23年2月ﾃﾞｰﾀ", "align": "left", "baseline": "middle", "fontSize": 13}, "encoding": {"x": {"datum": {"year": 2019, "month": 1, "date": 21}, "type": "temporal", "axis": null}, "y": {"datum": 8.43, "type": "quantitative", "axis": null}}},
            {"mark": {"type": "text", "text": "まで、金利の直近は", "align": "left", "baseline": "middle", "fontSize": 13}, "encoding": {"x": {"datum": {"year": 2019, "month": 3, "date": 16}, "type": "temporal", "axis": null}, "y": {"datum": 7.36, "type": "quantitative", "axis": null}}},
            {"mark": {"type": "text", "text": "3月22日のﾃﾞｰﾀ", "align": "left", "baseline": "middle", "fontSize": 13}, "encoding": {"x": {"datum": {"year": 2019, "month": 3, "date": 16}, "type": "temporal", "axis": null}, "y": {"datum": 6.36, "type": "quantitative", "axis": null}}},
            {"mark": {"type": "text", "text": "7.3%", "align": "left", "baseline": "middle", "fontSize": 12.5, "dx": 4, "color": "#ff9a1a", "font": "Liberation Sans"}, "encoding": {"x": {"datum": {"year": 2023, "month": 3, "date": 22}, "type": "temporal", "axis": null}, "y": {"datum": 7.36, "type": "quantitative", "axis": null}}},
            {"mark": {"type": "text", "text": "5.5%", "align": "left", "baseline": "middle", "fontSize": 12.5, "dx": 4, "color": "#e00000", "font": "Liberation Sans"}, "encoding": {"x": {"datum": {"year": 2023, "month": 3, "date": 22}, "type": "temporal", "axis": null}, "y": {"datum": 5.41, "type": "quantitative", "axis": null}}},
            {"mark": {"type": "text", "text": "3.434%", "align": "left", "baseline": "middle", "fontSize": 12.5, "dx": 2, "color": "#262626", "font": "Liberation Sans"}, "encoding": {"x": {"datum": {"year": 2023, "month": 3, "date": 22}, "type": "temporal", "axis": null}, "y": {"datum": 3.57, "type": "quantitative", "axis": null}}},
            {"mark": {"type": "text", "text": "1.0%", "align": "left", "baseline": "middle", "fontSize": 12.5, "dx": 3, "color": "#3d97a7", "font": "Liberation Sans"}, "encoding": {"x": {"datum": {"year": 2023, "month": 3, "date": 22}, "type": "temporal", "axis": null}, "y": {"datum": 0.9, "type": "quantitative", "axis": null}}},
            {"mark": {"type": "text", "text": "（%）（2019年1月～2023年3月*）", "align": "left", "baseline": "middle", "fontSize": 13.5, "dx": -11}, "encoding": {"x": {"datum": {"year": 2019, "month": 1, "date": 1}, "type": "temporal", "axis": null}, "y": {"datum": 14.47, "type": "quantitative", "axis": null}}}
          ]
        }
      ],
      "spacing": 68,
      "bounds": "flush"
    },
    {
      "width": 227, "height": 270,
      "data": {"values": [{}]},
      "resolve": {"scale": {"y": "independent"}, "axis": {"x": "independent", "y": "independent"}},
      "layer": [
        {"data": {"name": "labor"}, "mark": {"type": "bar", "color": "#ecb11c", "width": {"band": 0.75}},
         "encoding": {
           "x": {"field": "d", "timeUnit": "utcyearmonth", "type": "temporal", "scale": {"domain": [{"year": 2019, "month": 1, "date": 1}, {"year": 2023, "month": 2, "date": 23}], "nice": false},
                 "axis": {"orient": "bottom", "title": null, "grid": true, "values": [{"year":2019},{"year":2020},{"year":2021},{"year":2022},{"year":2023}], "format": "%y年", "labelOverlap": false, "labelFlush": false, "labelBound": false, "labelPadding": 8, "ticks": true, "tickSize": 4, "tickColor": "#8c8c8c"}},
           "y": {"field": "jobs", "type": "quantitative", "scale": {"domain": [0, 1800], "nice": false}, "axis": {"orient": "left", "title": null, "grid": false, "values": [0, 200, 400, 600, 800, 1000, 1200], "labelExpr": "format(datum.value, ',')", "labelPadding": 6, "labelOverlap": false}}}},
        {
          "resolve": {"axis": {"x": "independent", "y": "independent"}},
          "layer": [
            {"mark": {"type": "rect", "color": "white"},
             "encoding": {"x": {"datum": {"year": 2019, "month": 3, "date": 2}, "type": "temporal", "axis": null}, "x2": {"datum": {"year": 2022, "month": 12, "date": 5}}, "y": {"datum": 8.9, "type": "quantitative", "axis": null}, "y2": {"datum": 8.17}}},
            {"mark": {"type": "rect", "color": "white", "stroke": "#e0a800", "strokeWidth": 1, "strokeDash": [2, 2]}, "encoding": {"x": {"datum": {"year": 2019, "month": 1, "date": 28}, "type": "temporal", "axis": null}, "x2": {"datum": {"year": 2021, "month": 1, "date": 17}}, "y": {"datum": 1.83, "type": "quantitative", "axis": null}, "y2": {"datum": 1.2}}},
            {"mark": {"type": "rect", "color": "white"}, "encoding": {"x": {"datum": {"year": 2019, "month": 1, "date": 14}, "type": "temporal", "axis": null}, "x2": {"datum": {"year": 2021, "month": 2, "date": 19}}, "y": {"datum": 1.15, "type": "quantitative", "axis": null}, "y2": {"datum": 0}}},
            {"data": {"name": "labor"}, "mark": {"type": "line", "color": "#c00000", "strokeWidth": 2.5},
             "encoding": {"x": {"field": "d", "type": "temporal", "axis": null},
               "y": {"field": "wage", "type": "quantitative", "scale": {"domain": [0, 9], "nice": false}, "axis": {"orient": "right", "title": null, "grid": true, "values": [0, 1, 2, 3, 4, 5, 6, 7, 8, 9], "labelPadding": 8, "labelOverlap": false}}}},
            {"mark": {"type": "rule", "color": "#c00000", "strokeWidth": 2.5}, "encoding": {"x": {"datum": {"year": 2019, "month": 4, "date": 11}, "type": "temporal", "axis": null}, "x2": {"datum": {"year": 2019, "month": 8, "date": 2}}, "y": {"datum": 8.53, "type": "quantitative", "axis": null}}},
            {"mark": {"type": "text", "text": "平均時給（前年同月比、右軸）", "align": "left", "baseline": "middle", "fontSize": 12.5}, "encoding": {"x": {"datum": {"year": 2019, "month": 10, "date": 8}, "type": "temporal", "axis": null}, "y": {"datum": 8.53, "type": "quantitative", "axis": null}}},
            {"mark": {"type": "text", "text": "（万件･人）", "align": "right", "baseline": "middle", "fontSize": 12, "dx": -1}, "encoding": {"x": {"datum": {"year": 2019, "month": 1, "date": 1}, "type": "temporal", "axis": null}, "y": {"datum": 6.57, "type": "quantitative", "axis": null}}},
            {"mark": {"type": "text", "text": "求人件数（左軸）", "align": "center", "baseline": "middle", "fontSize": 12.5}, "encoding": {"x": {"datum": {"year": 2020, "month": 1, "date": 23}, "type": "temporal", "axis": null}, "y": {"datum": 1.53, "type": "quantitative", "axis": null}}},
            {"mark": {"type": "text", "text": "**求人件数は23年", "align": "left", "baseline": "middle", "fontSize": 13}, "encoding": {"x": {"datum": {"year": 2019, "month": 2, "date": 3}, "type": "temporal", "axis": null}, "y": {"datum": 0.83, "type": "quantitative", "axis": null}}},
            {"mark": {"type": "text", "text": "1月ﾃﾞｰﾀまで", "align": "left", "baseline": "middle", "fontSize": 13}, "encoding": {"x": {"datum": {"year": 2019, "month": 4, "date": 4}, "type": "temporal", "axis": null}, "y": {"datum": 0.27, "type": "quantitative", "axis": null}}},
            {"mark": {"type": "text", "text": "4.6%", "align": "left", "baseline": "middle", "fontSize": 12, "dx": 3, "color": "#e00000", "font": "Liberation Sans"}, "encoding": {"x": {"datum": {"year": 2023, "month": 2, "date": 1}, "type": "temporal", "axis": null}, "y": {"datum": 4.53, "type": "quantitative", "axis": null}}},
            {"mark": {"type": "text", "text": "（2019年1月～2023年2月**）（%）", "align": "right", "baseline": "middle", "fontSize": 13.5, "dx": 17}, "encoding": {"x": {"datum": {"year": 2023, "month": 2, "date": 23}, "type": "temporal", "axis": null}, "y": {"datum": 9.23, "type": "quantitative", "axis": null}}},
            {"mark": {"type": "rect", "color": "#d6588a", "cornerRadius": 6}, "encoding": {"x": {"datum": {"year": 2018, "month": 6, "date": 15}, "type": "temporal", "axis": null}, "x2": {"datum": {"year": 2023, "month": 6, "date": 23}}, "y": {"datum": 10.67, "type": "quantitative", "axis": null}, "y2": {"datum": 9.8}}},
            {"mark": {"type": "text", "text": "米労働市場の主要指標の推移", "align": "center", "baseline": "middle", "fontSize": 19, "fontWeight": "bold", "color": "white"}, "encoding": {"x": {"datum": {"year": 2020, "month": 12, "date": 18}, "type": "temporal", "axis": null}, "y": {"datum": 10.23, "type": "quantitative", "axis": null}}}
          ]
        }
      ]
    }
  ],
  "spacing": -29,
  "config": {
    "font": "Noto Sans CJK JP",
    "view": {"stroke": "#8c8c8c", "strokeWidth": 1},
    "axis": {"labelFont": "Liberation Sans, Noto Sans CJK JP", "labelFontSize": 15, "labelColor": "#404040", "gridColor": "#d9d9d9", "gridWidth": 1, "domain": false, "ticks": false, "labelOverlap": false},
    "title": {"font": "Noto Sans CJK JP", "fontSize": 13, "fontWeight": "normal", "color": "#404040"},
    "text": {"font": "Noto Sans CJK JP", "fontSize": 13, "color": "#404040"}
  }
}
